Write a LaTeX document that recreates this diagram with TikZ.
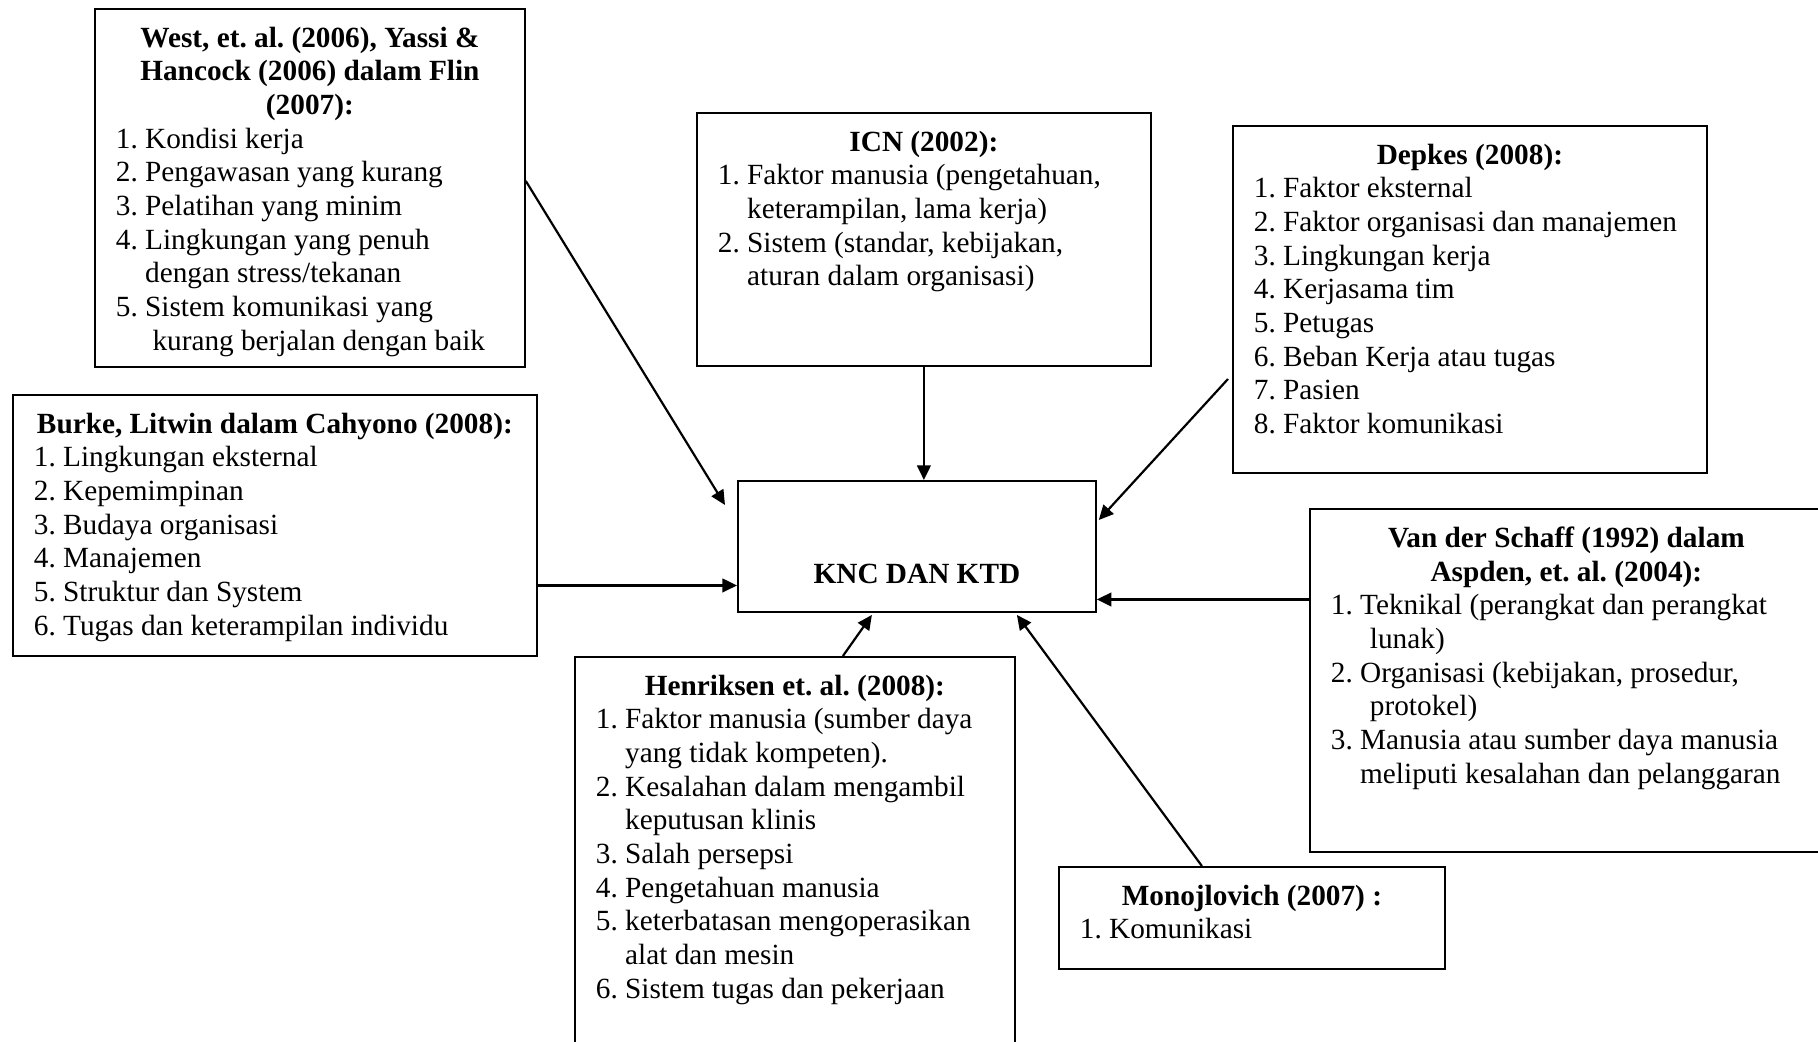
\documentclass[tikz,border=0pt]{standalone}
\usepackage{fontspec}
\setmainfont{Liberation Serif}
\usetikzlibrary{arrows.meta,calc}
\frenchspacing

\newlength{\pxu}\setlength{\pxu}{0.0144cm}
\newlength{\nomor}\setlength{\nomor}{12pt}
\newcommand{\judul}[1]{\makebox[\linewidth]{\bfseries #1}}
\newcommand{\butir}[2]{\makebox[\nomor][l]{#1}#2}
\newcommand{\lanjut}[1]{\hspace*{\nomor}#1}
\newcommand{\isi}[3]{\parbox[c][\dimexpr#2\pxu-36\pxu\relax][t]{\dimexpr#1\pxu-42\pxu\relax}{#3}}

\tikzset{
  faktor/.style={draw, line width=0.75pt, anchor=north west, inner xsep=8.6pt, inner ysep=7.4pt,
    font=\fontsize{12}{13.8}\selectfont},
  panah/.style={-{Triangle[length=6pt,width=5.6pt]}, line width=0.9pt}
}

\begin{document}
\begin{tikzpicture}[x=0.0144cm, y=-0.0144cm]
\useasboundingbox (0,0) rectangle (1818,1042);
\clip (0,0) rectangle (1818,1042);

% ================= TOP LEFT: WEST =================
\node[faktor] (west) at (94,8) {\isi{430}{358}{%
\judul{West, et. al. (2006), Yassi \&}\\
\judul{Hancock (2006) dalam Flin}\\
\judul{(2007):}\\
\butir{1.}{Kondisi kerja}\\
\butir{2.}{Pengawasan yang kurang}\\
\butir{3.}{Pelatihan yang minim}\\
\butir{4.}{Lingkungan yang penuh}\\
\lanjut{dengan stress/tekanan}\\
\butir{5.}{Sistem komunikasi yang}\\
\lanjut{\hspace*{3pt}kurang berjalan dengan baik}}};

% ================= TOP MIDDLE: ICN =================
\node[faktor] (icn) at (696,112) {\isi{454}{253}{%
\judul{ICN (2002):}\\
\butir{1.}{Faktor manusia (pengetahuan,}\\
\lanjut{keterampilan, lama kerja)}\\
\butir{2.}{Sistem (standar, kebijakan,}\\
\lanjut{aturan dalam organisasi)}}};

% ================= TOP RIGHT: DEPKES =================
\node[faktor] (depkes) at (1232,125) {\isi{474}{347}{%
\judul{Depkes (2008):}\\
\butir{1.}{Faktor eksternal}\\
\butir{2.}{Faktor organisasi dan manajemen}\\
\butir{3.}{Lingkungan kerja}\\
\butir{4.}{Kerjasama tim}\\
\butir{5.}{Petugas}\\
\butir{6.}{Beban Kerja atau tugas}\\
\butir{7.}{Pasien}\\
\butir{8.}{Faktor komunikasi}}};

% ================= LEFT: BURKE =================
\node[faktor] (burke) at (12,394) {\isi{524}{261}{%
\judul{Burke, Litwin dalam Cahyono (2008):}\\
\butir{1.}{Lingkungan eksternal}\\
\butir{2.}{Kepemimpinan}\\
\butir{3.}{Budaya organisasi}\\
\butir{4.}{Manajemen}\\
\butir{5.}{Struktur dan System}\\
\butir{6.}{Tugas dan keterampilan individu}}};

% ================= CENTRE: KNC DAN KTD =================
\node[faktor] (knc) at (737,480) {\isi{358}{131}{%
\vspace*{65\pxu}\judul{KNC DAN KTD}}};

% ================= RIGHT: VAN DER SCHAFF =================
\node[faktor] (van) at (1309,508) {\isi{513}{343}{%
\judul{Van der Schaff (1992) dalam}\\
\judul{Aspden, et. al. (2004):}\\
\butir{1.}{Teknikal (perangkat dan perangkat}\\
\lanjut{\hspace*{4pt}lunak)}\\
\butir{2.}{Organisasi (kebijakan, prosedur,}\\
\lanjut{\hspace*{4pt}protokel)}\\
\butir{3.}{Manusia atau sumber daya manusia}\\
\lanjut{meliputi kesalahan dan pelanggaran}}};

% ================= BOTTOM: HENRIKSEN =================
\node[faktor] (henri) at (574,656) {\isi{440}{400}{%
\judul{Henriksen et. al. (2008):}\\
\butir{1.}{Faktor manusia (sumber daya}\\
\lanjut{yang tidak kompeten).}\\
\butir{2.}{Kesalahan dalam mengambil}\\
\lanjut{keputusan klinis}\\
\butir{3.}{Salah persepsi}\\
\butir{4.}{Pengetahuan manusia}\\
\butir{5.}{keterbatasan mengoperasikan}\\
\lanjut{alat dan mesin}\\
\butir{6.}{Sistem tugas dan pekerjaan}}};

% ================= BOTTOM RIGHT: MONOJLOVICH =================
\node[faktor] (mono) at (1058,866) {\isi{386}{102}{%
\judul{Monojlovich (2007) :}\\
\butir{1.}{Komunikasi}}};

% ================= ARROWS =================
\coordinate (tBurke) at ($(knc.west)+(0,39)$);
\coordinate (tVan) at ($(knc.east)+(0,53)$);
\draw[panah] ($(west.east)+(0,-7)$) -- ($(knc.north west)+(-12,25)$);
\draw[panah] (icn.south) -- (icn.south |- knc.north);
\draw[panah] ($(depkes.north west)+(-4,254)$) -- ($(knc.north east)+(2,40)$);
\draw[panah] (burke.east |- tBurke) -- (tBurke);
\draw[panah] (van.west |- tVan) -- (tVan);
\draw[panah] ($(henri.north)+(48,0)$) -- ($(knc.south)+(-45,2)$);
\draw[panah] ($(mono.north)+(-50,0)$) -- ($(knc.south)+(100,2)$);

\end{tikzpicture}
\end{document}
